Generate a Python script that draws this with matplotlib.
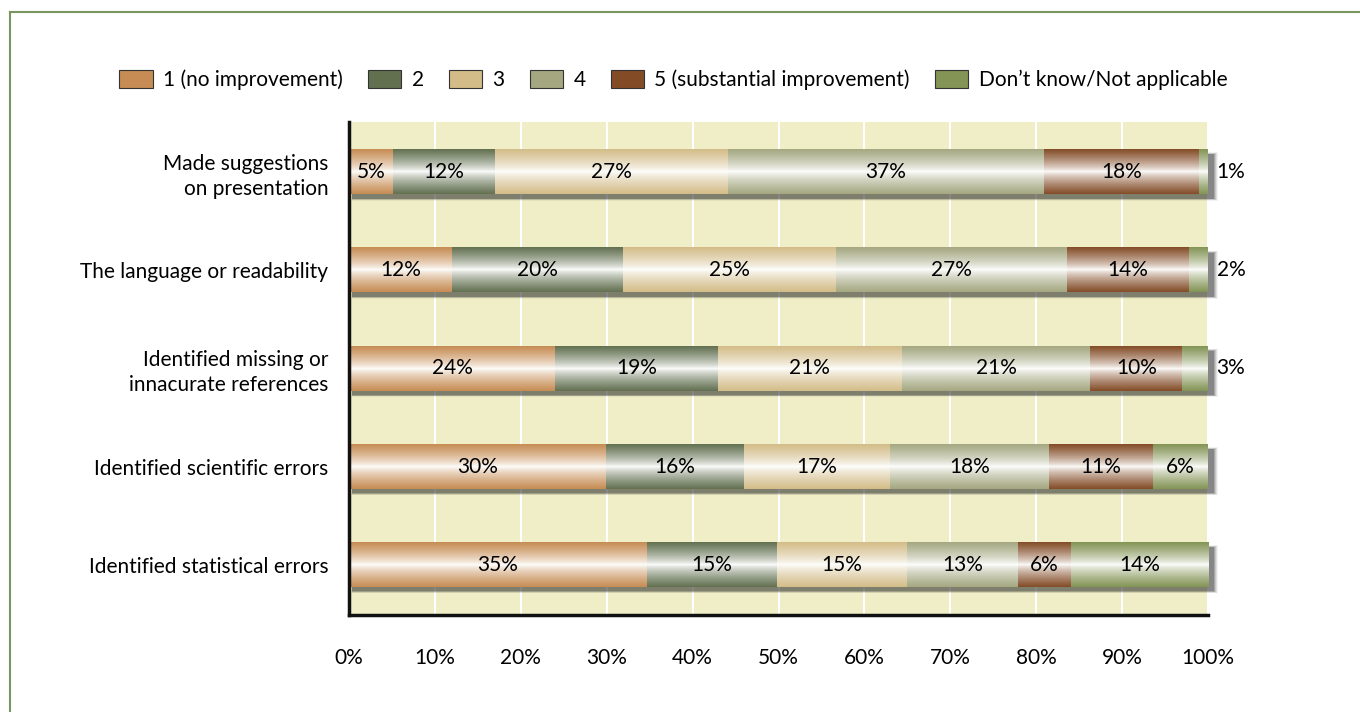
import numpy as np
import matplotlib
matplotlib.use("Agg")
import matplotlib.pyplot as plt
from matplotlib.patches import Patch
from matplotlib.lines import Line2D
from matplotlib.colors import to_rgb

plt.rcParams['font.family'] = ['Lato', 'DejaVu Sans']

categories = ["Made suggestions\non presentation",
              "The language or readability",
              "Identified missing or\ninnacurate references",
              "Identified scientific errors",
              "Identified statistical errors"]
series_names = ["1 (no improvement)", "2", "3", "4",
                "5 (substantial improvement)", "Don\u2019t know/Not applicable"]
colors = ["#c68c53", "#627050", "#d3bc88", "#a4a780", "#834c27", "#839455"]

# drawn segment widths (% of bar)
w1 = [5.1, 12.0, 24.0, 29.9, 34.7]
w2 = [11.9, 19.9, 18.9, 16.1, 15.1]
w3 = [27.1, 24.8, 21.5, 17.0, 15.2]
w4 = [36.8, 26.9, 21.9, 18.5, 12.9]
w5 = [18.1, 14.2, 10.7, 12.1, 6.1]
w6 = [1.0, 2.2, 3.0, 6.4, 16.0]
widths = [w1, w2, w3, w4, w5, w6]

# printed labels (%)
l1 = [5, 12, 24, 30, 35]
l2 = [12, 20, 19, 16, 15]
l3 = [27, 25, 21, 17, 15]
l4 = [37, 27, 21, 18, 13]
l5 = [18, 14, 10, 11, 6]
l6 = [1, 2, 3, 6, 14]
labels = [l1, l2, l3, l4, l5, l6]

xticks = [0, 10, 20, 30, 40, 50, 60, 70, 80, 90, 100]

FS = 15

fig = plt.figure(figsize=(13.6, 7.12), dpi=100)
fig.patch.set_facecolor("white")
ax = fig.add_axes([349/1360, 1-615/712, (1208-349)/1360, (615-122)/712])
ax.set_facecolor("#f0eec6")

n = len(categories)
ypos = np.arange(n)
bar_h = 0.45

# soft shadows
totals = np.sum(np.array(widths), axis=0)
for k, a in enumerate([0.06, 0.09, 0.13, 0.18, 0.25]):
    grow = (4 - k) * 0.01
    ax.barh(ypos + 0.045, totals + 0.3 + (4 - k) * 0.12, left=0.35,
            height=bar_h + grow, color="#222222", alpha=a, zorder=2,
            clip_on=False, linewidth=0)

# gradient profile
N = 200
t = np.linspace(0, 1, N)
prof = np.abs(2 * t - 1) ** 0.75

left = np.zeros(n)
for si, (w, lab, col) in enumerate(zip(widths, labels, colors)):
    bars = ax.barh(ypos, w, left=left, height=bar_h, color=col, zorder=3, linewidth=0)
    c = np.array(to_rgb(col))
    img = (1 - prof)[:, None] * np.ones(3)[None, :] + prof[:, None] * c[None, :]
    img = img[:, None, :]
    for i, b in enumerate(bars):
        x0, y0 = b.get_x(), b.get_y()
        ax.imshow(img, extent=[x0, x0 + b.get_width(), y0, y0 + b.get_height()],
                  aspect='auto', interpolation='bilinear', zorder=4, origin='lower')
        if w[i] < 4:
            ax.text(100 + 1.0, ypos[i], f"{lab[i]}%", ha='left', va='center',
                    fontsize=FS, zorder=6)
        else:
            ax.text(x0 + w[i] / 2, ypos[i], f"{lab[i]}%", ha='center', va='center',
                    fontsize=FS, zorder=6)
    left = left + np.array(w)

ax.set_xlim(0, 100)
ax.set_ylim(n - 0.49, -0.51)
ax.set_xticks(xticks)
ax.set_xticklabels([f"{v}%" for v in xticks], fontsize=FS)
ax.set_yticks(ypos)
ax.set_yticklabels(categories, fontsize=FS, linespacing=1.3)
ax.tick_params(axis='x', length=0, pad=24)
ax.tick_params(axis='y', length=0, pad=15)
ax.xaxis.grid(True, color="white", linewidth=1.5, zorder=1)
ax.set_axisbelow(True)
for s in ["top", "right"]:
    ax.spines[s].set_visible(False)
for s in ["left", "bottom"]:
    ax.spines[s].set_linewidth(2.5)
    ax.spines[s].set_color("#111111")
    ax.spines[s].set_zorder(7)

handles = [Patch(facecolor=c, edgecolor="#333333", linewidth=0.8) for c in colors]
fig.legend(handles, series_names, loc='center', bbox_to_anchor=(0.495, 1 - 80/712),
           ncol=6, frameon=False, fontsize=FS, handlelength=1.6, handleheight=1.0,
           handletextpad=0.5, columnspacing=1.2)

# outer frame
fig.add_artist(Line2D([10/1360, 1.0], [1 - 12/712, 1 - 12/712], color="#7a9560",
                      linewidth=1.5, transform=fig.transFigure))
fig.add_artist(Line2D([10/1360, 10/1360], [0, 1 - 12/712], color="#7a9560",
                      linewidth=1.5, transform=fig.transFigure))

fig.savefig("out.png", dpi=100)
